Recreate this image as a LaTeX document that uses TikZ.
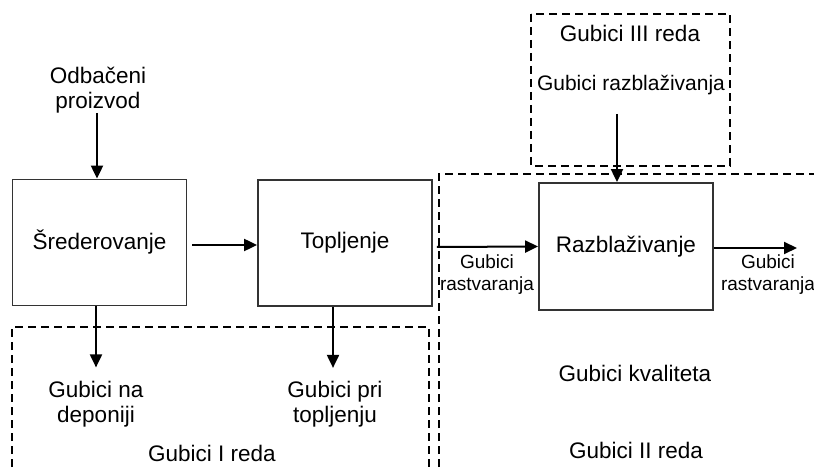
\documentclass[tikz,border=0pt]{standalone}
\usepackage{fontspec}
\setmainfont{Liberation Sans}
\usetikzlibrary{arrows.meta}
\begin{document}
\begin{tikzpicture}[x=1pt,y=-1pt,
  procbox/.style={draw=black!80,line width=1.8pt,minimum width=174pt,minimum height=126pt,inner sep=0pt,font=\fontsize{22.5}{25}\selectfont},
  lbl/.style={inner sep=0pt,align=center,font=\fontsize{22.5}{25}\selectfont},
  small/.style={inner sep=0pt,align=center,font=\fontsize{19}{22}\selectfont},
  mid/.style={inner sep=0pt,align=center,font=\fontsize{21}{24}\selectfont},
  flow/.style={line width=2pt,-{Triangle[length=13pt,width=12pt]}},
  zone/.style={line width=2.3pt,dash pattern=on 8pt off 5pt}]
\clip (0,0) rectangle (814,470);
\fill[white] (0,0) rectangle (814,470);
% zones
\draw[zone] (531,14) rectangle (730,166);
\draw[zone] (439,480) -- (439,174) -- (820,174);
\draw[zone] (12,480) -- (12,327) -- (429,327) -- (429,480);
% process boxes
\node[procbox] (sred) at (99.5,242.5) {Šrederovanje};
\node[procbox] (topl) at (345,243) {Topljenje};
\node[procbox,minimum height=127pt] (razb) at (626,246.5) {Razblaživanje};
% labels
\node[lbl] (odb) at (98,90) {Odbačeni\\proizvod};
\node[lbl] (g3) at (630,33) {Gubici III reda};
\node[mid] (grazb) at (631,85) {Gubici razblaživanja};
\node[small] (grast1) at (487,275) {Gubici\\rastvaranja};
\node[small] (grast2) at (768,275) {Gubici\\rastvaranja};
\node[lbl] (gkval) at (635,373) {Gubici kvaliteta};
\node[lbl] (g2) at (636,450) {Gubici II reda};
\node[lbl] (g1) at (212,453) {Gubici I reda};
\node[lbl] (gdep) at (96,404) {Gubici na\\deponiji};
\node[lbl] (gtop) at (335,404) {Gubici pri\\topljenju};
\coordinate (out) at (797,248);
\coordinate (odbend) at (97,113);
\coordinate (razbin) at (617,114);
% connectors
\draw[flow] (odbend) -- (odbend |- sred.north);
\draw[flow] ([xshift=5pt,yshift=-2.5pt]sred.east) -- ([yshift=-2pt]topl.west);
\draw[flow] ([xshift=4pt,yshift=-4pt]topl.east) -- (razb.west);
\draw[flow] ([yshift=-1.5pt]razb.east) -- (out);
\draw[flow] (razbin) -- (razbin |- razb.north);
\draw[flow] ([xshift=-3.5pt]sred.south) -- ++(0,61);
\draw[flow] ([xshift=-12pt]topl.south) -- ++(0,61);
\end{tikzpicture}
\end{document}
